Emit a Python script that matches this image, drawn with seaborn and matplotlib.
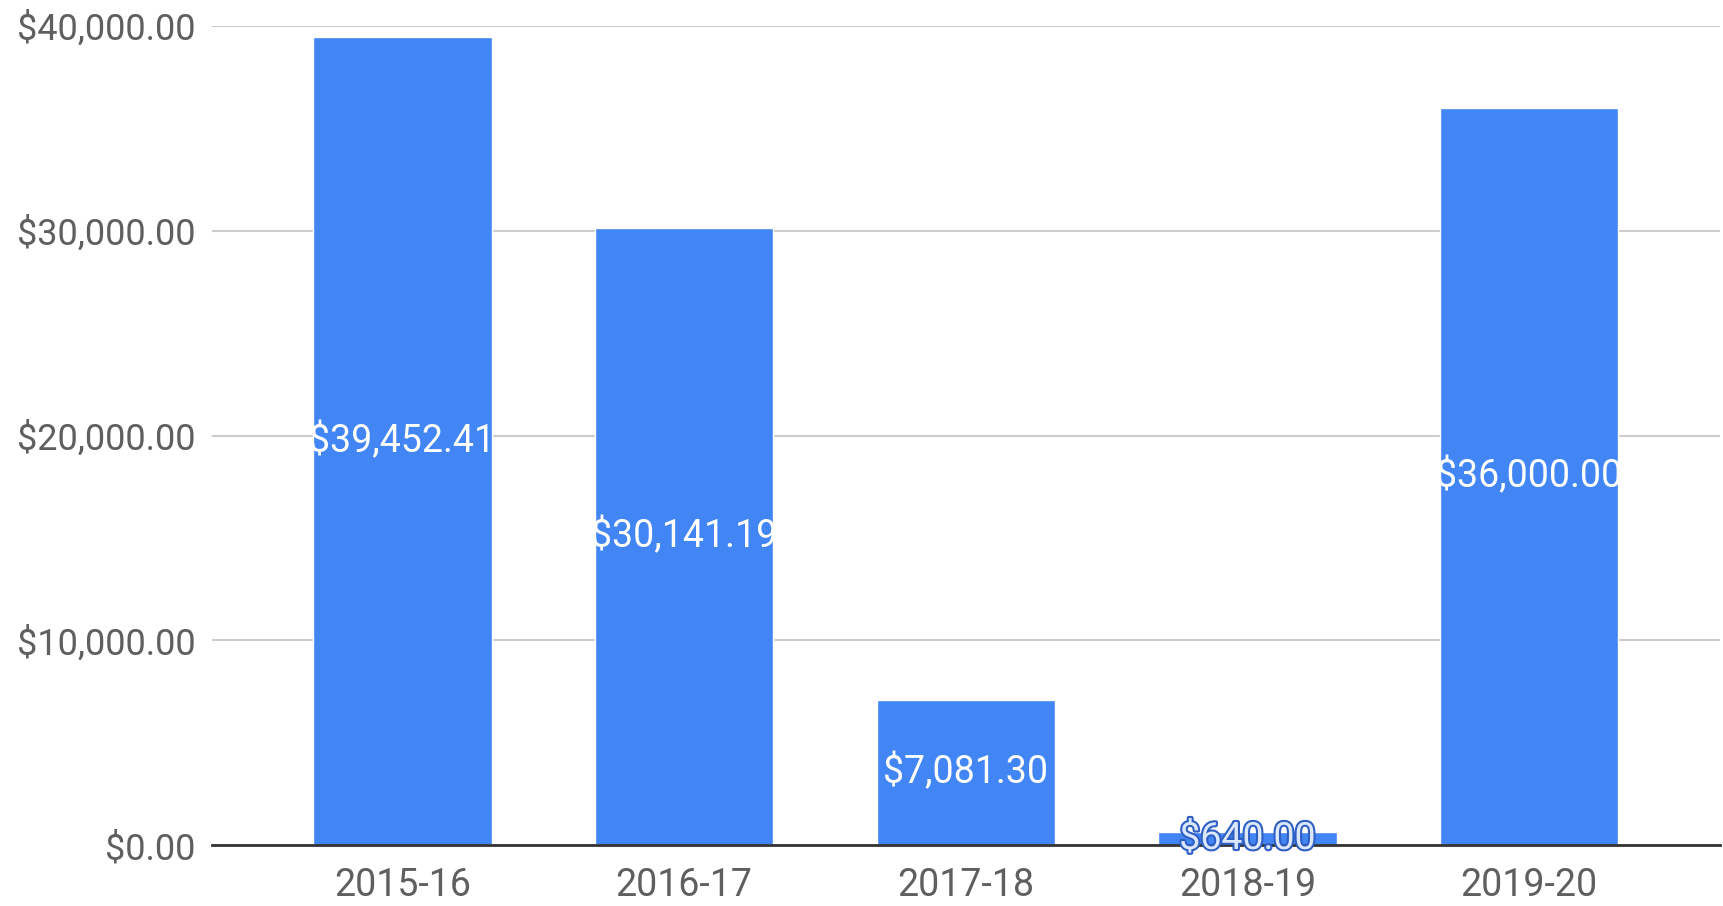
import matplotlib
matplotlib.use("Agg")
import matplotlib.pyplot as plt
import matplotlib.patheffects as pe
import seaborn as sns
import pandas as pd

# Yearly totals
years = ["2015-16", "2016-17", "2017-18", "2018-19", "2019-20"]
amounts = [39452.41, 30141.19, 7081.30, 640.00, 36000.00]
y_ticks = [0, 10000, 20000, 30000, 40000]

df = pd.DataFrame({"year": years, "amount": amounts})

sns.set_theme(style="white")
plt.rcParams["font.family"] = ["Roboto", "DejaVu Sans"]

BAR = "#4285F4"
TXT = "#5f5f5f"
fig = plt.figure(figsize=(17.23, 9.06), dpi=100)
ax = fig.add_axes([0.123, 0.0673, 0.875, 0.904])

sns.barplot(data=df, x="year", y="amount", color=BAR, saturation=1,
            width=0.633, ax=ax, zorder=3)

ax.set_xlim(-0.676, len(years) - 1 + 0.676)
ax.set_ylim(0, 40000)
ax.set_yticks(y_ticks)
ax.set_yticklabels([f"${v:,.2f}" for v in y_ticks])
ax.set_xlabel("")
ax.set_ylabel("")

ax.grid(axis="y", color="#cccccc", linewidth=1.5, zorder=0)
ax.grid(axis="x", visible=False)
for side in ["top", "left", "right"]:
    ax.spines[side].set_visible(False)
ax.spines["bottom"].set_color("#333333")
ax.spines["bottom"].set_linewidth(2)
ax.spines["bottom"].set_zorder(4)

ax.tick_params(axis="y", length=0, pad=12, labelsize=26, labelcolor=TXT)
ax.tick_params(axis="x", length=0, pad=16, labelsize=27, labelcolor=TXT)

# Value labels in the middle of each bar
for i, v in enumerate(amounts):
    t = ax.text(i, v / 2, f"${v:,.2f}", ha="center", va="center",
                fontsize=27, color="white", zorder=5)
    if v < 2000:
        t.set_color("#dbe7fd")
        t.set_path_effects([pe.Stroke(linewidth=3, foreground="#2f5fc4"),
                            pe.Normal()])

fig.savefig("out.png", dpi=100)
